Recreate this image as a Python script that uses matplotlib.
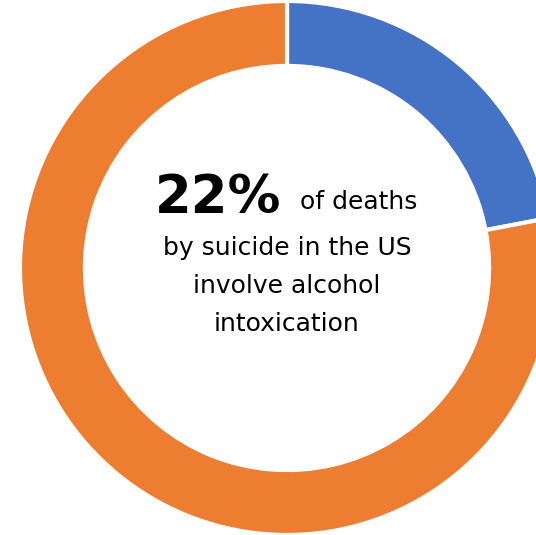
import matplotlib
matplotlib.use("Agg")
import matplotlib.pyplot as plt

# -- share of suicide deaths involving alcohol intoxication
labels = ["alcohol intoxication", "other"]
shares = [22, 78]
colors = ["#4472C4", "#ED7D31"]

headline = "22%"
lines = ["by suicide in the US", "involve alcohol", "intoxication"]

# -- figure in pixel units, donut centre at (287, 268), radius 265
W, H = 536, 535
cx, cy, rad = 287.0, 268.0, 265.0

def px(x, y):
    return (x - cx) / rad, (cy - y) / rad

fig = plt.figure(figsize=(W / 100.0, H / 100.0), dpi=100)
ax = fig.add_axes([0, 0, 1, 1])
ax.pie(shares, colors=colors, startangle=90, counterclock=False,
       radius=267.0 / rad,
       wedgeprops=dict(width=0.245, edgecolor="white", linewidth=3))
ax.set_xlim(-cx / rad, (W - cx) / rad)
ax.set_ylim(-(H - cy) / rad, cy / rad)
ax.set_aspect("auto")
ax.axis("off")

font = "DejaVu Sans"

x, y = px(281, 213)
ax.text(x, y, headline, ha="right", va="baseline", fontsize=38,
        fontweight="bold", family=font, color="black")
x, y = px(300, 209)
ax.text(x, y, "of deaths", ha="left", va="baseline", fontsize=18,
        family=font, color="black")

for txt, base in zip(lines, [255, 293, 331]):
    x, y = px(287, base)
    ax.text(x, y, txt, ha="center", va="baseline", fontsize=18,
            family=font, color="black")

fig.savefig("out.png", dpi=100)
